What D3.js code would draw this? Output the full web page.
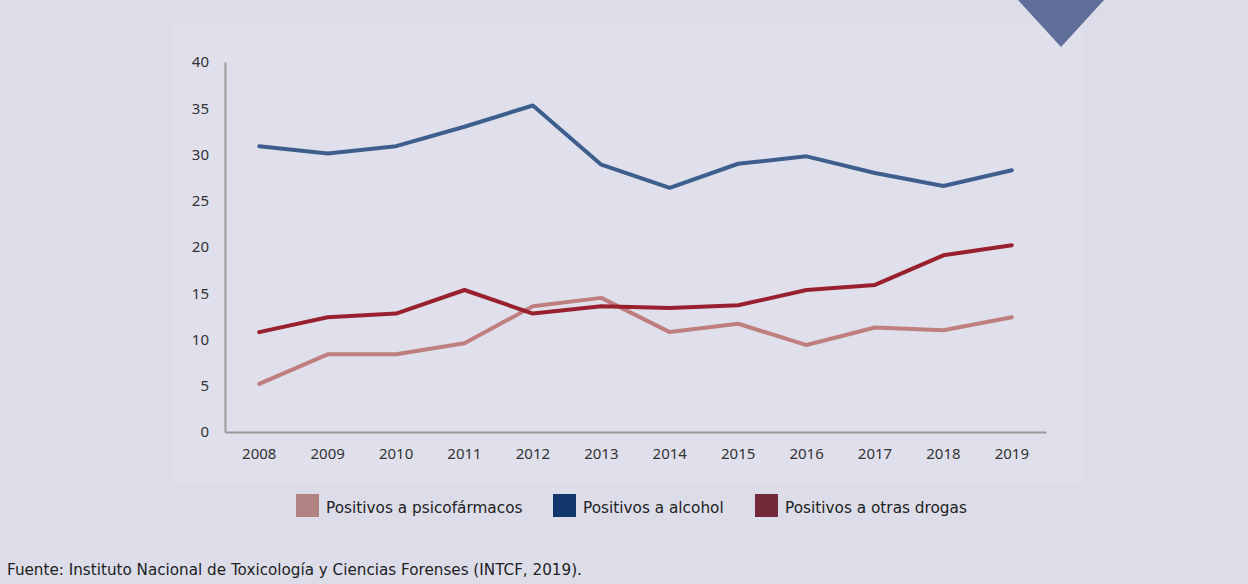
<!DOCTYPE html>
<html>
<head>
<meta charset="utf-8">
<script src="https://cdn.jsdelivr.net/npm/d3@7"></script>
<style>
  html, body { margin: 0; padding: 0; background: #dcdde9; }
  svg { display: block; }
</style>
</head>
<body>
<svg id="chart" width="1248" height="584"></svg>
<script>
// data
var years = ["2008","2009","2010","2011","2012","2013","2014","2015","2016","2017","2018","2019"];
var psicofarmacos = [5.2, 8.4, 8.4, 9.6, 13.6, 14.5, 10.8, 11.7, 9.4, 11.3, 11.0, 12.4];
var alcohol = [30.9, 30.1, 30.9, 33.0, 35.3, 28.9, 26.4, 29.0, 29.8, 28.0, 26.6, 28.3];
var otrasDrogas = [10.8, 12.4, 12.8, 15.35, 12.8, 13.6, 13.4, 13.7, 15.35, 15.9, 19.1, 20.2];
var yTicks = [0, 5, 10, 15, 20, 25, 30, 35, 40];
var legendLabels = ["Positivos a psicofármacos", "Positivos a alcohol", "Positivos a otras drogas"];
var source = "Fuente: Instituto Nacional de Toxicología y Ciencias Forenses (INTCF, 2019).";

var series = [
  {name: legendLabels[0], values: psicofarmacos, line: "#c07f7f", key: "#b08282"},
  {name: legendLabels[1], values: alcohol, line: "#3e5f8e", key: "#12386b"},
  {name: legendLabels[2], values: otrasDrogas, line: "#99212f", key: "#722a3a"}
];

var svg = d3.select("#chart");
var tickFont = "'Noto Sans', sans-serif";
var textFont = "'DejaVu Sans', sans-serif";

// panel behind the plot, barely lighter than the page
svg.append("rect")
  .attr("x", 173).attr("y", 25)
  .attr("width", 910).attr("height", 458)
  .attr("fill", "#dfe0eb");

// decorative triangle top right
svg.append("path")
  .attr("d", "M1018,0 L1104,0 L1061,47 Z")
  .attr("fill", "#5f6f9a");

var x = d3.scaleBand().domain(years).range([225, 1046]);
var y = d3.scaleLinear().domain([0, 40]).range([432, 62]);

// y axis
var yAxis = svg.append("g")
  .attr("transform", "translate(225,0)")
  .call(d3.axisLeft(y).tickValues(yTicks).tickSize(0).tickPadding(16));
yAxis.select(".domain").attr("stroke", "#9a9a9a").attr("stroke-width", 2);
yAxis.selectAll("text")
  .attr("font-family", tickFont).attr("font-size", 15).attr("fill", "#333");

// x axis
var xAxis = svg.append("g")
  .attr("transform", "translate(0,432)")
  .call(d3.axisBottom(x).tickSize(0).tickPadding(16));
xAxis.select(".domain").attr("stroke", "#9a9a9a").attr("stroke-width", 2);
xAxis.selectAll("text")
  .attr("font-family", tickFont).attr("font-size", 15).attr("fill", "#333");

var line = d3.line()
  .x(function(d, i){ return x(years[i]) + x.bandwidth() / 2; })
  .y(function(d){ return y(d); });

svg.selectAll(".serie")
  .data(series)
  .enter().append("path")
  .attr("class", "serie")
  .attr("d", function(s){ return line(s.values); })
  .attr("fill", "none")
  .attr("stroke", function(s){ return s.line; })
  .attr("stroke-width", 4)
  .attr("stroke-linejoin", "round")
  .attr("stroke-linecap", "round");

// legend
var legendX = [296, 553, 755];
var legend = svg.selectAll(".key")
  .data(series)
  .enter().append("g")
  .attr("class", "key")
  .attr("transform", function(d, i){ return "translate(" + legendX[i] + ",494)"; });
legend.append("rect")
  .attr("width", 23).attr("height", 23)
  .attr("fill", function(d){ return d.key; });
legend.append("text")
  .attr("x", 30).attr("y", 19)
  .attr("font-family", textFont).attr("font-size", 15.3).attr("fill", "#222")
  .text(function(d){ return d.name; });

svg.append("text")
  .attr("x", 7).attr("y", 575)
  .attr("font-family", textFont).attr("font-size", 15.2).attr("fill", "#222")
  .text(source);
</script>
</body>
</html>
